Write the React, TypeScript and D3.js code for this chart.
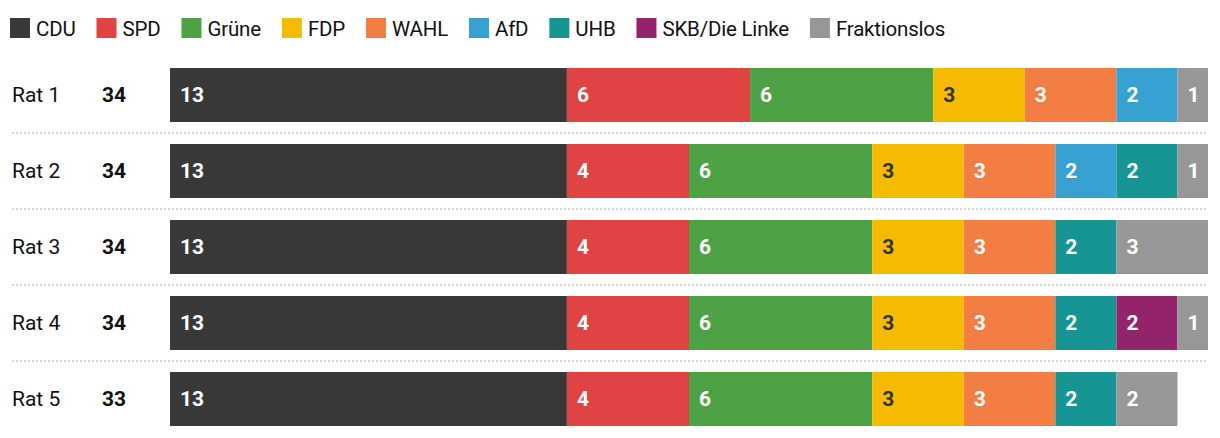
import { useEffect, useRef } from 'react';
import * as d3 from 'd3';

const width = 1220;
const height = 438;

// parties in stacking order
const parties = ['CDU', 'SPD', 'Grüne', 'FDP', 'WAHL', 'AfD', 'UHB', 'SKB/Die Linke', 'Fraktionslos'];
const colors = ['#383838', '#df4343', '#4ea246', '#f5bb00', '#f27e44', '#37a2d1', '#169594', '#93246b', '#979797'];
const darkLabelParties = ['FDP'];

const rats = ['Rat 1', 'Rat 2', 'Rat 3', 'Rat 4', 'Rat 5'];
// seats per party, same order as `parties` (0 = not in the council)
const rat1 = [13, 6, 6, 3, 3, 2, 0, 0, 1];
const rat2 = [13, 4, 6, 3, 3, 2, 2, 0, 1];
const rat3 = [13, 4, 6, 3, 3, 0, 2, 0, 3];
const rat4 = [13, 4, 6, 3, 3, 0, 2, 2, 1];
const rat5 = [13, 4, 6, 3, 3, 0, 2, 0, 2];
const seats = [rat1, rat2, rat3, rat4, rat5];

const maxSeats = 34;
const font = 'Roboto, "DejaVu Sans", sans-serif';

type Seg = { party: string; value: number; x0: number; x1: number };

export default function App() {
    const ref = useRef<SVGSVGElement>(null);

    useEffect(() => {
        const svg = d3.select(ref.current);
        svg.selectAll('*').remove();

        const color = d3.scaleOrdinal<string, string>().domain(parties).range(colors);

        // legend, laid out by measured text width
        const legend = svg.append('g').attr('font-family', font).attr('font-size', 20.5).attr('letter-spacing', -0.2);
        let lx = 10;
        parties.forEach((p) => {
            const g = legend.append('g').attr('transform', `translate(${lx},18)`);
            g.append('rect').attr('width', 20).attr('height', 20).attr('fill', color(p));
            const t = g.append('text').attr('x', 26).attr('y', 17.5).attr('fill', '#111').text(p);
            const w = (t.node() as SVGTextElement).getComputedTextLength();
            lx += 26 + w + 21;
        });

        const x = d3.scaleLinear().domain([0, maxSeats]).range([170, 1208]);
        // band: step 76, bar 54
        const y = d3
            .scaleBand()
            .domain(rats)
            .range([68, 68 + 76 * (rats.length - 1) + 54])
            .paddingInner(22 / 76)
            .paddingOuter(0);

        const rows = svg
            .selectAll('g.row')
            .data(rats)
            .join('g')
            .attr('class', 'row')
            .attr('transform', (d) => `translate(0,${y(d)})`);

        // dotted separators
        rows.filter((_, i) => i < rats.length - 1)
            .append('line')
            .attr('x1', 12)
            .attr('x2', 1208)
            .attr('y1', y.bandwidth() + 11)
            .attr('y2', y.bandwidth() + 11)
            .attr('stroke', '#d6d6d6')
            .attr('stroke-width', 2)
            .attr('stroke-dasharray', '2 2');

        rows.append('text')
            .attr('x', 12)
            .attr('y', y.bandwidth() / 2)
            .attr('dy', '0.35em')
            .attr('font-family', font)
            .attr('font-size', 21)
            .attr('fill', '#111')
            .text((d) => d);

        rows.append('text')
            .attr('x', 126)
            .attr('y', y.bandwidth() / 2)
            .attr('dy', '0.35em')
            .attr('text-anchor', 'end')
            .attr('font-family', font)
            .attr('font-weight', 'bold')
            .attr('font-size', 21)
            .attr('fill', '#111')
            .text((_, i) => d3.sum(seats[i]));

        rows.each(function (_, i) {
            let acc = 0;
            const segs: Seg[] = [];
            seats[i].forEach((v, j) => {
                if (v > 0) segs.push({ party: parties[j], value: v, x0: acc, x1: acc + v });
                acc += v;
            });
            const g = d3.select(this);
            const seg = g.selectAll('g.seg').data(segs).join('g').attr('class', 'seg');
            seg.append('rect')
                .attr('x', (d) => x(d.x0))
                .attr('width', (d) => x(d.x1) - x(d.x0))
                .attr('height', y.bandwidth())
                .attr('fill', (d) => color(d.party));
            seg.append('text')
                .attr('x', (d) => x(d.x0) + 10)
                .attr('y', y.bandwidth() / 2)
                .attr('dy', '0.35em')
                .attr('font-family', font)
                .attr('font-weight', 'bold')
                .attr('font-size', 21)
                .attr('fill', (d) => (darkLabelParties.includes(d.party) ? '#333' : '#fff'))
                .text((d) => d.value);
        });
    }, []);

    return (
        <div style={{ margin: -8 }}>
            <svg ref={ref} width={width} height={height} style={{ display: 'block', background: '#fff' }} />
        </div>
    );
}
